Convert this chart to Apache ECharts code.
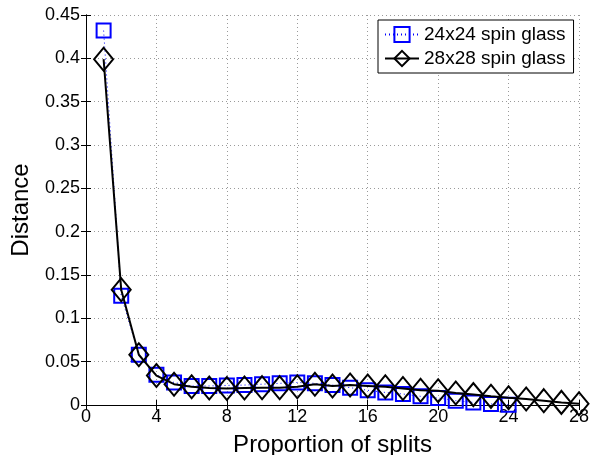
<!DOCTYPE html>
<html>
<head>
<meta charset="utf-8">
<script src="https://cdn.jsdelivr.net/npm/echarts@6/dist/echarts.min.js"></script>
<style>
html,body{margin:0;padding:0;background:#fff;}
#chart{width:591px;height:455px;}
</style>
</head>
<body>
<div id="chart"></div>
<script>
// Distance versus proportion of splits for two spin glass sizes
const splits24 = [1,2,3,4,5,6,7,8,9,10,11,12,13,14,15,16,17,18,19,20,21,22,23,24];
const dist24 = [0.432,0.126,0.058,0.035,0.026,0.022,0.022,0.0226,0.023,0.024,0.025,0.026,0.025,0.023,0.020,0.017,0.0145,0.0127,0.010,0.008,0.005,0.003,0.0012,0.0003];
const splits28 = [1,2,3,4,5,6,7,8,9,10,11,12,13,14,15,16,17,18,19,20,21,22,23,24,25,26,27,28];
const dist28 = [0.399,0.133,0.058,0.034,0.024,0.021,0.0196,0.019,0.0196,0.020,0.020,0.021,0.024,0.022,0.023,0.022,0.021,0.019,0.017,0.0165,0.0138,0.012,0.010,0.0084,0.007,0.005,0.003,0.0015];
const xTicks = [0,4,8,12,16,20,24,28];
const yTicks = [0,0.05,0.1,0.15,0.2,0.25,0.3,0.35,0.4,0.45];
const seriesNames = ['24x24 spin glass','28x28 spin glass'];

const font = 'Liberation Sans, Arial, Helvetica, sans-serif';
const chart = echarts.init(document.getElementById('chart'), null, {renderer:'canvas'});

const gridLine = {show:true, lineStyle:{color:'#9a9a9a', type:[1,3], width:1}};
const hiddenAxisBase = {
  axisLine:{show:true, lineStyle:{color:'#000', width:1}},
  axisTick:{show:true, inside:true, length:5, lineStyle:{color:'#000'}},
  axisLabel:{show:false},
  splitLine:{show:false}
};

chart.setOption({
  animation:false,
  backgroundColor:'#fff',
  grid:{left:86, top:15, width:493, height:390, containLabel:false, outerBoundsMode:'none'},
  legend:{
    orient:'vertical',
    left:378, top:20,
    backgroundColor:'#fff',
    borderColor:'#000', borderWidth:1,
    padding:[5,8,5,6],
    itemGap:5,
    itemWidth:34, itemHeight:19,
    textStyle:{fontFamily:font, fontSize:19, color:'#000'},
    data:seriesNames
  },
  xAxis:[{
    type:'value', min:0, max:28, interval:4,
    name:'Proportion of splits', nameLocation:'middle', nameGap:28,
    nameTextStyle:{fontFamily:font, fontSize:24, color:'#000'},
    axisLine:{show:true, onZero:false, lineStyle:{color:'#000', width:1}},
    axisTick:{show:true, inside:true, length:5, lineStyle:{color:'#000'}},
    axisLabel:{fontFamily:font, fontSize:18, color:'#000', margin:3,
      formatter:v => xTicks.includes(v) ? String(v) : ''},
    splitLine:gridLine
  },{
    type:'value', min:0, max:28, interval:4, position:'top', ...hiddenAxisBase
  }],
  yAxis:[{
    type:'value', min:0, max:0.45, interval:0.05,
    name:'Distance', nameLocation:'middle', nameGap:53,
    nameTextStyle:{fontFamily:font, fontSize:24, color:'#000'},
    axisLine:{show:true, onZero:false, lineStyle:{color:'#000', width:1}},
    axisTick:{show:true, inside:true, length:5, lineStyle:{color:'#000'}},
    axisLabel:{fontFamily:font, fontSize:18, color:'#000', margin:6,
      formatter:v => {
        const t = yTicks.find(y => Math.abs(y - v) < 1e-9);
        return t === undefined ? '' : String(+t.toFixed(2));
      }},
    splitLine:gridLine
  },{
    type:'value', min:0, max:0.45, interval:0.05, position:'right', ...hiddenAxisBase
  }],
  series:[{
    name:seriesNames[0], type:'line',
    data:splits24.map((x,i)=>[x, dist24[i]]),
    symbol:'rect', symbolSize:14,
    lineStyle:{color:'#0000ff', width:1, type:[1,3]},
    itemStyle:{color:'rgba(255,255,255,0)', borderColor:'#0000ff', borderWidth:2},
    z:2
  },{
    name:seriesNames[1], type:'line',
    data:splits28.map((x,i)=>[x, dist28[i]]),
    symbol:'diamond', symbolSize:[19,23],
    lineStyle:{color:'#000', width:2},
    itemStyle:{color:'rgba(255,255,255,0)', borderColor:'#000', borderWidth:2},
    z:3
  }]
});
</script>
</body>
</html>
